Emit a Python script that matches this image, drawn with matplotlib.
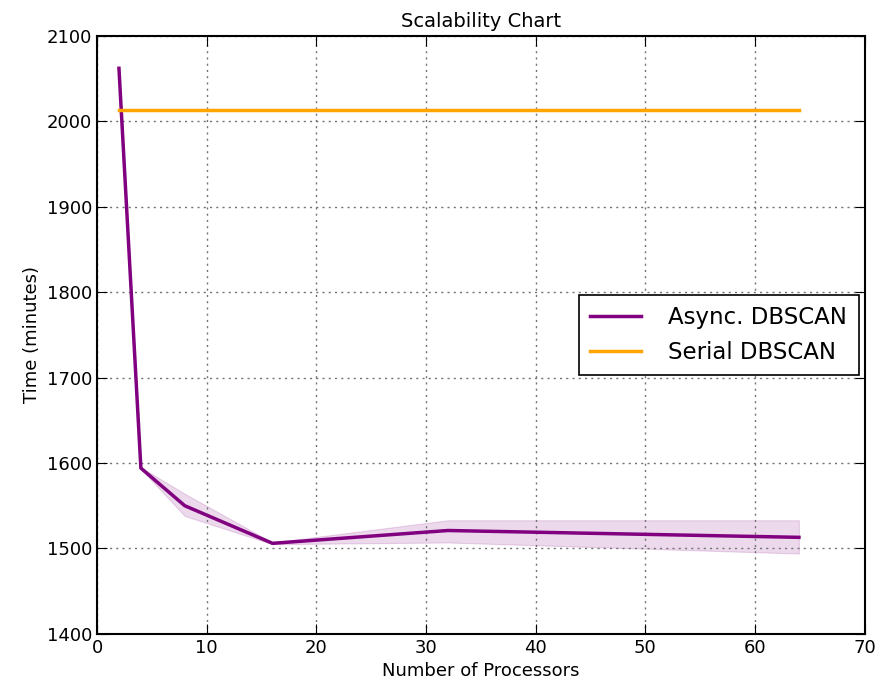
import matplotlib
matplotlib.use("Agg")
import matplotlib.pyplot as plt
import numpy as np

# processors vs. runtime (minutes)
procs = [2, 4, 8, 16, 32, 64]
async_time = [2062, 1594, 1550, 1506, 1521, 1513]
async_low = [2060, 1593, 1538, 1505, 1507, 1494]
async_high = [2064, 1595, 1564, 1507, 1533, 1533]
serial_time = [2013, 2013, 2013, 2013, 2013, 2013]

plt.rcParams['font.family'] = ['DejaVu Sans']
fig = plt.figure(figsize=(8.86, 6.89), dpi=100)
ax = fig.add_axes([0.1095, 0.080, 0.8665, 0.868])

ax.fill_between(procs, async_low, async_high, color='purple', alpha=0.15, lw=0.8)
ax.plot(procs, async_time, color='purple', lw=2.5, label='Async. DBSCAN')
ax.plot(procs, serial_time, color='orange', lw=2.5, label='Serial DBSCAN')

ax.set_xlim(0, 70)
ax.set_ylim(1400, 2100)
ax.set_xticks(np.arange(0, 71, 10))
ax.set_yticks(np.arange(1400, 2101, 100))
ax.grid(True, linestyle=(0, (1.5, 3)), color='0.45', lw=1)
ax.tick_params(direction='in', length=7, labelsize=13, top=True, right=True)
for s in ax.spines.values():
    s.set_linewidth(1.5)

ax.set_title('Scalability Chart', fontsize=14)
ax.set_xlabel('Number of Processors', fontsize=13)
ax.set_ylabel('Time (minutes)', fontsize=13)

leg = ax.legend(loc='center right', bbox_to_anchor=(0.995, 0.5), fontsize=16.5,
                fancybox=False, edgecolor='black', framealpha=1, borderaxespad=0.1,
                handlelength=2.2, labelspacing=0.5, borderpad=0.5, handletextpad=1.2)
leg.get_frame().set_linewidth(1.2)

fig.savefig('out.png', dpi=100)
